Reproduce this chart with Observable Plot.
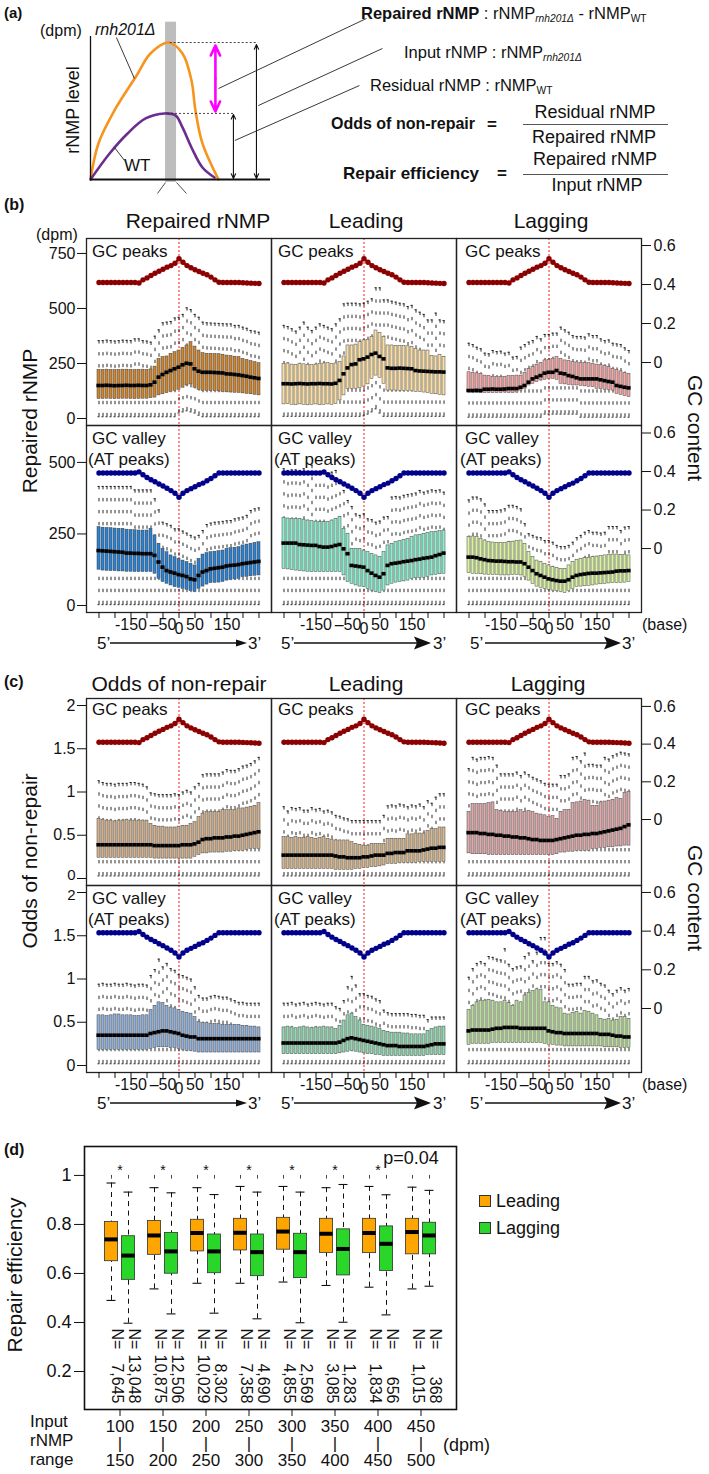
<!DOCTYPE html>
<html><head><meta charset="utf-8">
<script src="https://cdn.jsdelivr.net/npm/d3@7"></script>
<script src="https://cdn.jsdelivr.net/npm/@observablehq/plot@0.6"></script>
<style>
body{margin:0;background:#fff;}
#root{position:relative;width:709px;height:1474px;overflow:hidden;background:#fff;font-family:"Liberation Sans",Arial,Helvetica,sans-serif;color:#111;}
.t{position:absolute;white-space:nowrap;line-height:1;}
.t sub{font-size:0.62em;vertical-align:-0.3em;line-height:0;}
</style></head><body><div id="root"></div><script>
// ---------------- DATA ----------------
const positions = [-250,-237.5,-225,-212.5,-200,-187.5,-175,-162.5,-150,-137.5,-125,-112.5,-100,-87.5,-75,-62.5,-50,-37.5,-25,-12.5,0,12.5,25,37.5,50,62.5,75,87.5,100,112.5,125,137.5,150,162.5,175,187.5,200,212.5,225,237.5,250];
const xTicks = [-250,-200,-150,-100,-50,0,50,100,150,200,250];
const xLabelPos = [-150,-50,50,150];
const xLabelText = ["-150","\u201350","50","150"];
const columns = ["Repaired","Leading","Lagging"];

// GC content profiles
const gcPeaks = [0.41,0.41,0.41,0.41,0.41,0.41,0.41,0.41,0.41,0.41,0.408,0.424,0.434,0.446,0.458,0.468,0.478,0.489,0.497,0.509,0.532,0.514,0.497,0.486,0.476,0.467,0.458,0.45,0.438,0.424,0.412,0.41,0.41,0.41,0.41,0.41,0.409,0.408,0.407,0.406,0.405];
const gcValley = [0.392,0.392,0.392,0.392,0.392,0.392,0.392,0.392,0.392,0.392,0.398,0.383,0.369,0.357,0.347,0.335,0.325,0.313,0.301,0.287,0.266,0.287,0.301,0.311,0.321,0.332,0.34,0.352,0.364,0.378,0.392,0.392,0.392,0.392,0.392,0.392,0.392,0.392,0.392,0.392,0.392];

// (b) Repaired rNMP (dpm) – GC peaks
const b1Med = [150,150,151,150,149,150,150,151,150,150,151,150,150,153,165,188,200,210,218,226,233,244,251,248,226,215,210,210,210,209,208,207,203,202,200,198,195,192,188,185,182];
const b1Q3 = [221,221,222,221,220,221,222,222,221,220,221,222,221,223,236,271,279,282,294,301,309,321,332,347,327,309,297,294,294,293,292,290,286,284,281,279,271,266,261,256,251];
const b1Q1 = [89,89,90,89,88,89,90,90,89,88,89,90,90,92,95,105,110,115,120,125,130,140,150,155,140,130,125,125,124,124,123,120,119,118,117,116,114,112,110,108,105];
const b1Hi = [354,354,356,354,352,354,356,355,354,362,362,354,352,347,374,403,435,438,441,457,460,473,503,495,473,460,438,435,434,433,432,431,430,430,423,423,415,410,400,397,392];
const b1Lo = [8,8,8,8,8,8,8,8,8,8,8,8,8,8,8,8,8,8,8,8,25,30,35,30,25,15,8,8,8,8,8,8,8,8,8,8,8,8,8,8,8];
const b2Med = [158,158,157,158,159,158,157,158,158,159,158,158,157,160,173,203,230,245,248,267,271,279,291,297,282,271,230,228,228,229,228,227,226,218,216,215,214,213,212,212,211];
const b2Q3 = [248,250,245,244,248,246,244,242,245,247,250,252,248,250,256,282,332,332,336,347,355,358,370,400,388,370,332,332,330,330,329,328,326,317,309,309,309,285,282,290,279];
const b2Q1 = [64,66,62,60,64,62,60,62,64,60,62,64,62,65,82,105,135,135,135,137,145,155,180,195,185,158,127,127,127,126,126,125,124,120,120,118,116,112,110,107,105];
const b2Hi = [423,418,408,397,415,438,415,400,415,430,423,415,408,430,453,521,524,524,524,521,524,533,544,594,594,539,539,533,529,524,521,509,514,494,483,473,448,448,479,448,445];
const b2Lo = [10,10,10,10,10,10,10,10,10,10,10,10,10,10,10,10,10,10,10,10,12,20,30,44,25,10,10,10,10,10,10,10,10,10,10,10,10,10,10,10,10];
const b3Med = [127,127,128,127,133,133,134,133,133,134,136,136,136,142,150,165,180,188,195,206,210,210,218,206,203,195,191,185,180,180,180,180,180,176,172,168,165,150,146,142,139];
const b3Q3 = [210,208,205,203,195,193,190,190,188,190,192,193,195,195,206,226,233,245,251,264,267,271,279,271,264,261,256,255,253,252,251,248,245,242,238,233,226,220,214,208,203];
const b3Q1 = [120,118,117,116,117,116,115,116,117,118,117,116,118,127,135,150,158,165,173,176,180,180,176,158,155,152,150,150,148,146,144,142,135,133,131,129,127,112,107,102,97];
const b3Hi = [342,336,324,317,297,294,309,304,306,297,301,279,282,324,336,347,354,373,362,382,382,388,388,415,403,392,377,373,373,370,385,377,377,362,354,357,342,339,336,321,309];
const b3Lo = [6,6,6,6,6,6,6,6,6,6,6,6,6,6,6,6,6,6,6,20,20,20,20,20,20,20,20,20,6,6,6,6,6,6,6,6,6,6,6,6,6];
// (b) – GC valley (AT peaks)
const b4Med = [192,191,190,189,188,187,186,183,183,182,182,181,181,181,175,152,134,122,117,113,108,105,101,93,90,105,117,122,128,130,132,134,138,140,141,143,146,148,150,152,154];
const b4Q3 = [274,272,271,270,269,268,268,265,264,263,262,262,262,268,245,216,198,186,175,169,163,157,152,146,140,163,178,183,186,188,190,192,198,200,202,204,210,213,216,219,221];
const b4Q1 = [125,122,121,120,120,119,119,118,118,117,117,117,117,117,111,93,82,76,70,64,62,58,55,50,47,58,66,73,78,79,80,82,87,89,91,93,99,100,102,104,105];
const b4Hi = [416,416,416,416,416,416,416,416,416,404,404,404,404,404,373,334,291,286,280,268,268,260,253,245,239,245,262,283,288,291,292,294,296,297,303,306,309,315,332,338,341];
const b4Lo = [3,3,3,3,3,3,3,3,3,3,3,3,3,3,3,3,3,3,3,3,3,3,3,3,3,3,3,3,3,3,3,3,3,3,3,3,3,3,3,3,3];
const b5Med = [218,218,218,218,213,212,211,210,210,206,204,204,206,210,213,198,181,140,138,136,134,122,113,105,99,111,140,146,148,150,153,155,157,160,162,165,167,169,174,178,183];
const b5Q3 = [306,304,303,303,303,300,297,295,293,291,291,291,297,303,309,268,251,198,198,198,192,186,181,175,169,186,210,216,221,225,229,233,239,245,247,250,253,256,258,260,262];
const b5Q1 = [128,126,124,122,120,119,118,117,117,117,117,117,117,117,117,105,82,76,70,66,64,58,52,47,43,52,70,76,80,82,84,87,93,95,96,97,99,105,107,109,111];
const b5Hi = [478,472,474,474,472,478,466,490,466,466,466,460,466,472,437,402,367,346,320,315,320,303,300,291,295,309,311,379,381,379,385,388,390,393,402,396,400,404,402,404,396];
const b5Lo = [3,3,3,3,3,3,3,3,3,3,3,3,3,3,3,3,3,3,3,3,3,3,3,3,3,3,3,3,3,3,3,3,3,3,3,3,3,3,3,3,3];
const b6Med = [169,169,167,163,160,157,156,155,155,154,153,153,152,152,146,134,122,111,105,99,93,90,87,85,85,90,99,105,108,110,112,113,113,114,115,116,117,120,121,121,122];
const b6Q3 = [239,241,239,233,227,221,220,219,218,218,221,223,225,227,216,186,169,157,152,146,140,134,132,128,128,140,152,160,163,165,167,169,171,173,175,176,178,178,177,176,175];
const b6Q1 = [113,111,110,109,108,107,106,106,105,105,105,106,106,105,99,87,76,66,62,58,55,52,50,47,43,50,58,64,66,67,69,70,73,74,75,77,78,78,79,80,82];
const b6Hi = [369,379,379,373,355,332,332,332,334,338,350,350,346,338,286,251,245,239,237,227,227,221,210,206,206,210,221,237,245,256,262,256,256,253,256,276,276,276,262,274,276];
const b6Lo = [3,3,3,3,3,3,3,3,3,3,3,3,3,3,3,3,3,3,3,3,3,3,3,3,3,3,3,3,3,3,3,3,3,3,3,3,3,3,3,3,3];

// (c) Odds of non-repair – GC peaks
const c1Med = [0.39,0.39,0.39,0.39,0.39,0.39,0.39,0.39,0.39,0.39,0.39,0.39,0.39,0.39,0.38,0.38,0.38,0.38,0.38,0.38,0.38,0.39,0.39,0.39,0.40,0.42,0.45,0.46,0.46,0.47,0.47,0.47,0.48,0.48,0.49,0.49,0.50,0.51,0.52,0.53,0.54];
const c1Q3 = [0.69,0.68,0.67,0.67,0.66,0.67,0.67,0.68,0.67,0.67,0.67,0.67,0.67,0.63,0.61,0.60,0.60,0.59,0.59,0.59,0.60,0.61,0.61,0.63,0.65,0.71,0.75,0.77,0.77,0.77,0.77,0.79,0.79,0.79,0.79,0.81,0.81,0.82,0.83,0.84,0.87];
const c1Q1 = [0.24,0.24,0.24,0.24,0.24,0.24,0.24,0.24,0.24,0.24,0.24,0.24,0.24,0.24,0.23,0.23,0.23,0.23,0.23,0.23,0.23,0.23,0.23,0.23,0.25,0.27,0.29,0.29,0.30,0.30,0.30,0.30,0.31,0.31,0.32,0.32,0.32,0.33,0.34,0.34,0.34];
const c1Hi = [1.13,1.11,1.10,1.10,1.09,1.10,1.10,1.10,1.11,1.11,1.10,1.09,1.06,0.99,0.98,0.97,0.97,0.97,0.97,0.98,0.97,1.00,1.02,1.00,1.06,1.10,1.20,1.21,1.21,1.21,1.21,1.23,1.26,1.25,1.25,1.27,1.30,1.31,1.33,1.36,1.40];
const c1Lo = [0.03,0.03,0.03,0.03,0.03,0.03,0.03,0.03,0.03,0.03,0.03,0.03,0.03,0.03,0.03,0.03,0.03,0.03,0.03,0.03,0.03,0.03,0.03,0.03,0.03,0.03,0.03,0.03,0.03,0.03,0.03,0.03,0.03,0.03,0.03,0.03,0.03,0.03,0.03,0.03,0.03];
const c2Med = [0.27,0.27,0.27,0.27,0.27,0.27,0.27,0.27,0.27,0.27,0.27,0.27,0.27,0.26,0.25,0.25,0.24,0.24,0.24,0.24,0.25,0.25,0.26,0.27,0.27,0.27,0.29,0.29,0.30,0.30,0.30,0.32,0.32,0.32,0.32,0.33,0.34,0.35,0.35,0.36,0.36];
const c2Q3 = [0.48,0.48,0.47,0.48,0.47,0.47,0.48,0.47,0.46,0.47,0.48,0.46,0.45,0.44,0.44,0.44,0.44,0.42,0.40,0.39,0.38,0.38,0.40,0.40,0.40,0.40,0.46,0.46,0.46,0.46,0.46,0.51,0.51,0.52,0.52,0.52,0.55,0.57,0.57,0.59,0.59];
const c2Q1 = [0.11,0.11,0.11,0.11,0.11,0.11,0.11,0.11,0.11,0.11,0.11,0.11,0.11,0.10,0.10,0.10,0.10,0.10,0.11,0.11,0.12,0.12,0.13,0.13,0.14,0.15,0.17,0.17,0.17,0.18,0.18,0.18,0.18,0.18,0.19,0.19,0.19,0.19,0.19,0.19,0.19];
const c2Hi = [0.83,0.78,0.82,0.81,0.82,0.79,0.79,0.82,0.80,0.81,0.78,0.79,0.77,0.73,0.72,0.70,0.69,0.67,0.67,0.67,0.67,0.67,0.67,0.67,0.67,0.73,0.84,0.85,0.84,0.86,0.85,0.83,0.85,0.84,0.86,0.83,0.90,0.87,0.94,0.98,0.98];
const c2Lo = [0.03,0.03,0.03,0.03,0.03,0.03,0.03,0.03,0.03,0.03,0.03,0.03,0.03,0.03,0.03,0.03,0.03,0.03,0.03,0.03,0.03,0.03,0.03,0.03,0.03,0.03,0.03,0.03,0.03,0.03,0.03,0.03,0.03,0.03,0.03,0.03,0.03,0.03,0.03,0.03,0.03];
const c3Med = [0.53,0.53,0.53,0.52,0.52,0.51,0.51,0.50,0.50,0.49,0.49,0.48,0.48,0.47,0.47,0.46,0.45,0.45,0.44,0.44,0.44,0.44,0.45,0.46,0.47,0.48,0.49,0.50,0.50,0.51,0.51,0.52,0.52,0.53,0.54,0.55,0.56,0.57,0.58,0.60,0.62];
const c3Q3 = [0.77,0.86,0.86,0.86,0.86,0.87,0.88,0.79,0.78,0.77,0.77,0.77,0.77,0.79,0.77,0.78,0.77,0.75,0.74,0.73,0.71,0.72,0.69,0.77,0.79,0.79,0.87,0.88,0.89,0.91,0.90,0.84,0.84,0.88,0.89,0.90,0.91,0.93,0.92,0.99,1.00];
const c3Q1 = [0.29,0.28,0.28,0.28,0.28,0.27,0.27,0.27,0.27,0.27,0.27,0.27,0.27,0.27,0.27,0.27,0.27,0.27,0.27,0.27,0.27,0.27,0.28,0.30,0.30,0.31,0.31,0.32,0.32,0.32,0.32,0.34,0.34,0.35,0.35,0.36,0.36,0.37,0.37,0.38,0.38];
const c3Hi = [1.27,1.40,1.38,1.40,1.40,1.41,1.40,1.31,1.21,1.21,1.21,1.21,1.23,1.19,1.23,1.20,1.17,1.15,1.13,1.10,1.09,1.09,1.09,1.19,1.19,1.21,1.40,1.41,1.36,1.45,1.32,1.32,1.31,1.31,1.40,1.38,1.42,1.44,1.46,1.45,1.44];
const c3Lo = [0.03,0.03,0.03,0.03,0.03,0.03,0.03,0.03,0.03,0.03,0.03,0.03,0.03,0.03,0.03,0.03,0.03,0.03,0.03,0.03,0.03,0.03,0.03,0.03,0.03,0.03,0.03,0.03,0.03,0.03,0.03,0.03,0.03,0.03,0.03,0.03,0.03,0.03,0.03,0.03,0.03];
// (c) – GC valley (AT peaks)
const c4Med = [0.35,0.35,0.35,0.35,0.35,0.35,0.35,0.35,0.35,0.35,0.35,0.35,0.35,0.37,0.38,0.39,0.40,0.40,0.39,0.38,0.37,0.35,0.34,0.33,0.33,0.31,0.31,0.31,0.31,0.31,0.31,0.31,0.31,0.31,0.31,0.31,0.31,0.31,0.31,0.31,0.31];
const c4Q3 = [0.58,0.58,0.57,0.58,0.59,0.59,0.58,0.58,0.58,0.57,0.57,0.58,0.58,0.64,0.69,0.73,0.72,0.69,0.67,0.66,0.64,0.62,0.61,0.60,0.56,0.50,0.49,0.49,0.48,0.48,0.48,0.47,0.47,0.47,0.47,0.47,0.46,0.46,0.45,0.45,0.44];
const c4Q1 = [0.18,0.18,0.18,0.18,0.18,0.18,0.18,0.18,0.18,0.18,0.18,0.18,0.18,0.19,0.20,0.21,0.21,0.21,0.20,0.20,0.19,0.18,0.17,0.17,0.16,0.15,0.15,0.15,0.15,0.15,0.15,0.15,0.15,0.15,0.15,0.15,0.15,0.15,0.15,0.15,0.15];
const c4Hi = [0.94,0.95,0.94,0.94,0.95,0.94,0.94,0.95,0.94,0.93,0.94,0.94,0.93,1.04,1.11,1.23,1.14,1.18,1.12,1.10,1.05,1.04,1.02,1.00,0.91,0.81,0.78,0.78,0.80,0.81,0.80,0.79,0.79,0.77,0.75,0.73,0.73,0.72,0.72,0.72,0.72];
const c4Lo = [0.02,0.02,0.02,0.02,0.02,0.02,0.02,0.02,0.02,0.02,0.02,0.02,0.02,0.02,0.02,0.02,0.02,0.02,0.02,0.02,0.02,0.02,0.02,0.02,0.02,0.02,0.02,0.02,0.02,0.02,0.02,0.02,0.02,0.02,0.02,0.02,0.02,0.02,0.02,0.02,0.02];
const c5Med = [0.26,0.26,0.26,0.26,0.26,0.26,0.26,0.26,0.26,0.26,0.26,0.26,0.26,0.26,0.27,0.29,0.31,0.32,0.31,0.30,0.29,0.28,0.27,0.26,0.25,0.24,0.23,0.23,0.23,0.22,0.22,0.22,0.22,0.22,0.22,0.22,0.23,0.24,0.25,0.25,0.25];
const c5Q3 = [0.44,0.45,0.44,0.43,0.44,0.45,0.44,0.43,0.44,0.44,0.45,0.44,0.44,0.42,0.46,0.52,0.58,0.60,0.56,0.52,0.47,0.46,0.45,0.44,0.42,0.40,0.39,0.38,0.38,0.38,0.37,0.37,0.36,0.36,0.36,0.36,0.40,0.42,0.44,0.45,0.45];
const c5Q1 = [0.13,0.13,0.13,0.13,0.13,0.13,0.13,0.13,0.13,0.13,0.13,0.13,0.13,0.13,0.14,0.15,0.16,0.17,0.16,0.15,0.14,0.13,0.13,0.12,0.12,0.11,0.11,0.11,0.11,0.11,0.11,0.11,0.11,0.11,0.11,0.11,0.12,0.12,0.12,0.12,0.12];
const c5Hi = [0.72,0.72,0.73,0.71,0.72,0.73,0.71,0.72,0.73,0.72,0.71,0.72,0.72,0.68,0.66,0.75,0.91,1.03,0.93,0.83,0.83,0.81,0.80,0.77,0.75,0.64,0.61,0.60,0.60,0.60,0.60,0.60,0.59,0.59,0.58,0.58,0.53,0.56,0.56,0.56,0.56];
const c5Lo = [0.02,0.02,0.02,0.02,0.02,0.02,0.02,0.02,0.02,0.02,0.02,0.02,0.02,0.02,0.02,0.02,0.02,0.02,0.02,0.02,0.02,0.02,0.02,0.02,0.02,0.02,0.02,0.02,0.02,0.02,0.02,0.02,0.02,0.02,0.02,0.02,0.02,0.02,0.02,0.02,0.02];
const c6Med = [0.40,0.41,0.41,0.41,0.41,0.41,0.42,0.43,0.43,0.44,0.44,0.44,0.44,0.43,0.43,0.43,0.43,0.43,0.43,0.43,0.40,0.39,0.38,0.38,0.37,0.37,0.37,0.37,0.37,0.37,0.37,0.37,0.37,0.36,0.36,0.36,0.35,0.34,0.34,0.33,0.33];
const c6Q3 = [0.64,0.69,0.73,0.75,0.75,0.76,0.75,0.73,0.73,0.75,0.72,0.69,0.75,0.73,0.81,0.84,0.86,0.88,0.87,0.73,0.73,0.69,0.67,0.66,0.60,0.59,0.61,0.62,0.60,0.63,0.62,0.60,0.58,0.54,0.53,0.54,0.52,0.53,0.56,0.56,0.54];
const c6Q1 = [0.24,0.25,0.25,0.25,0.25,0.25,0.26,0.26,0.26,0.26,0.26,0.26,0.26,0.26,0.26,0.26,0.26,0.26,0.26,0.25,0.24,0.24,0.23,0.23,0.22,0.22,0.22,0.22,0.22,0.22,0.22,0.22,0.22,0.22,0.21,0.21,0.21,0.21,0.20,0.20,0.20];
const c6Hi = [1.02,1.12,1.18,1.20,1.18,1.26,1.25,1.23,1.22,1.35,1.17,1.12,1.14,1.15,1.26,1.30,1.21,1.31,1.48,1.48,1.18,1.18,1.20,1.17,1.11,0.94,0.94,0.95,0.95,1.03,1.03,0.98,0.99,0.95,0.93,0.87,0.83,0.87,0.90,0.87,0.89];
const c6Lo = [0.02,0.02,0.02,0.02,0.02,0.02,0.02,0.02,0.02,0.02,0.02,0.02,0.02,0.02,0.02,0.02,0.02,0.02,0.02,0.02,0.02,0.02,0.02,0.02,0.02,0.02,0.02,0.02,0.02,0.02,0.02,0.02,0.02,0.02,0.02,0.02,0.02,0.02,0.02,0.02,0.02];

// (d) Repair efficiency by input rNMP range
const rangeLow = [100,150,200,250,300,350,400,450];
const rangeHigh = [150,200,250,300,350,400,450,500];
const leadHi = [0.969,0.95,0.95,0.955,0.955,0.95,0.955,0.952];
const leadQ3 = [0.81,0.814,0.819,0.823,0.827,0.823,0.823,0.823];
const leadMed = [0.739,0.755,0.765,0.766,0.771,0.762,0.765,0.769];
const leadQ1 = [0.65,0.676,0.69,0.694,0.697,0.684,0.683,0.678];
const leadLo = [0.49,0.537,0.56,0.56,0.565,0.551,0.544,0.537];
const lagHi = [0.932,0.929,0.922,0.932,0.932,0.963,0.921,0.939];
const lagQ3 = [0.752,0.765,0.759,0.759,0.762,0.78,0.792,0.807];
const lagMed = [0.673,0.69,0.69,0.687,0.687,0.70,0.721,0.755];
const lagQ1 = [0.574,0.599,0.601,0.589,0.581,0.592,0.61,0.678];
const lagLo = [0.397,0.435,0.438,0.415,0.399,0.401,0.431,0.548];
const leadN = [7645,10875,10029,7358,4855,3085,1834,1015];
const lagN = [13048,12506,8302,4690,2569,1283,656,368];
const sigMarks = ["*","*","*","*","*","*","*",""];
const yTicksD = [0.2,0.4,0.6,0.8,1];

// (a) schematic curves (arbitrary units)
const orangeCurve = [[0,0],[4.4,25.2],[13.3,48.3],[25.6,72.7],[33.3,88.1],[43.3,95.8],[51.1,88.1],[56.1,69.2],[58.3,48.3],[62.2,25.2],[71.1,0]];
const purpleCurve = [[0,0],[10.6,18.2],[20.6,32.2],[30.6,42.7],[41.1,46.2],[47.2,44.8],[51.1,36.4],[56.1,22.4],[62.2,8.4],[68.9,1.4]];

// ---------------- STYLE ----------------
const FONT = '"Liberation Sans", Arial, Helvetica, sans-serif';
const root = document.getElementById("root");
const W = 709, FL = 86, FR = 641;
const boxColB = [["#cc8634","#f9dea5","#f6a8a8"],["#2e82d2","#8eeccf","#daf0a2"]];
const boxColC = [["#d2b28e","#d6b892","#dea9a9"],["#92afd8","#96d8b3","#bddca0"]];
const gcColP = "#8b0000", gcColV = "#00008b";
const leadColor = "#ffa500", lagColor = "#2ad62a";

function T(html, x, y, o = {}) {
  const d = document.createElement("div");
  d.className = "t"; d.innerHTML = html;
  d.style.fontSize = (o.size || 16) + "px";
  if (o.bold) d.style.fontWeight = "bold";
  if (o.italic) d.style.fontStyle = "italic";
  d.style.left = x + "px"; d.style.top = y + "px";
  const ax = o.anchor === "middle" ? "-50%" : o.anchor === "end" ? "-100%" : "0";
  d.style.transform = `translate(${ax},-50%)` + (o.rotate ? ` rotate(${o.rotate}deg)` : "");
  root.appendChild(d);
}
function place(svg, top) {
  svg.style.position = "absolute"; svg.style.left = "0px"; svg.style.top = top + "px";
  root.appendChild(svg);
}
const baseStyle = {background: "transparent", overflow: "visible", fontSize: "16px", fontFamily: FONT, color: "#111"};

// ---------------- PANEL (a) ----------------
{
  const pts = (c) => c.map(([u, v]) => ({u, v}));
  const band = [{x1: 41.7, x2: 47.8, y1: -2, y2: 110}];
  const svg = Plot.plot({
    width: W, height: 195, marginLeft: 90, marginRight: W - 270, marginTop: 36, marginBottom: 16,
    style: baseStyle,
    x: {domain: [0, 100], axis: null}, y: {domain: [0, 100], axis: null},
    marks: [
      Plot.rect(band, {x1: "x1", x2: "x2", y1: "y1", y2: "y2", fill: "#bdbdbd"}),
      Plot.link([{a: 41.7, b: -2.1, c: 37.2, d: -9.8}, {a: 47.8, b: -2.1, c: 53.3, d: -9.8}], {x1: "a", y1: "b", x2: "c", y2: "d", stroke: "#222", strokeWidth: 0.8}),
      Plot.line(pts(orangeCurve), {x: "u", y: "v", curve: "catmull-rom", stroke: "#f7941d", strokeWidth: 2.6}),
      Plot.line(pts(purpleCurve), {x: "u", y: "v", curve: "catmull-rom", stroke: "#6b2d90", strokeWidth: 2.6}),
      Plot.ruleX([0], {y1: 0, y2: 100, stroke: "#111", strokeWidth: 1.3}),
      Plot.ruleY([0], {x1: 0, x2: 100, stroke: "#111", strokeWidth: 2}),
      Plot.link([{a: 44, b: 95.8, c: 92.8, d: 95.8}, {a: 42.5, b: 46.2, c: 80, d: 46.2}], {x1: "a", y1: "b", x2: "c", y2: "d", stroke: "#333", strokeWidth: 0.9, strokeDasharray: "2,2"}),
      Plot.arrow([{a: 69.4, b: 70.6, c: 69.4, d: 93.7}, {a: 69.4, b: 70.6, c: 69.4, d: 47.6}], {x1: "a", y1: "b", x2: "c", y2: "d", stroke: "#ff00ff", strokeWidth: 2.6, headLength: 9, headAngle: 50}),
      Plot.arrow([{a: 92.2, b: 47.5, c: 92.2, d: 94.4}, {a: 92.2, b: 47.5, c: 92.2, d: 0.7}, {a: 79.4, b: 23, c: 79.4, d: 45.5}, {a: 79.4, b: 23, c: 79.4, d: 0.7}], {x1: "a", y1: "b", x2: "c", y2: "d", stroke: "#111", strokeWidth: 1.1, headLength: 7, headAngle: 50}),
      Plot.link([{a: 71.1, b: 63.6, c: 153.3, d: 112.6}, {a: 93.2, b: 51.7, c: 162.2, d: 91.6}, {a: 80.2, b: 27.3, c: 149.4, d: 65.7}, {a: 14.4, b: 99.3, c: 24.4, d: 70.6}, {a: 13.3, b: 22.4, c: 18.9, d: 13.3}], {x1: "a", y1: "b", x2: "c", y2: "d", stroke: "#222", strokeWidth: 0.9})
    ]
  });
  place(svg, 0);
  T("(a)", 4, 12, {bold: true, size: 15});
  T("(dpm)", 40, 31, {size: 16});
  T("rnh201\u0394", 95, 30, {size: 16, italic: true});
  T("WT", 124, 165, {size: 17});
  T("rNMP level", 73, 110, {size: 18, anchor: "middle", rotate: -90});
  T("<b>Repaired rNMP</b> : rNMP<sub><i>rnh201\u0394</i></sub> - rNMP<sub>WT</sub>", 361, 13, {size: 16.5});
  T("Input rNMP : rNMP<sub><i>rnh201\u0394</i></sub>", 404, 52, {size: 16.5});
  T("Residual rNMP : rNMP<sub>WT</sub>", 370, 85, {size: 16.5});
  T("<b>Odds of non-repair</b>", 331, 124, {size: 16});
  T("<b>=</b>", 487, 124, {size: 17});
  T("Residual rNMP", 595, 112, {size: 18, anchor: "middle"});
  T("Repaired rNMP", 594, 137, {size: 18, anchor: "middle"});
  T("<b>Repair efficiency</b>", 343, 173, {size: 17});
  T("<b>=</b>", 497, 173, {size: 17});
  T("Repaired rNMP", 595, 159, {size: 18, anchor: "middle"});
  T("Input rNMP", 597, 185, {size: 18, anchor: "middle"});
  for (const y of [124, 174]) {
    const l = document.createElement("div");
    Object.assign(l.style, {position: "absolute", left: "523px", top: y + "px", width: "145px", height: "0", borderTop: "1.5px solid #555"});
    root.appendChild(l);
  }
}

// ---------------- PANELS (b) and (c) ----------------
function table(panels) {
  const out = [];
  for (const p of panels) positions.forEach((pos, i) => out.push({col: p.col, pos, med: p.med[i], q1: p.q1[i], q3: p.q3[i], hi: p.hi[i], lo: p.lo[i], fill: p.fill}));
  return out;
}
function gcTable(profile) {
  const out = [];
  for (const col of columns) positions.forEach((pos, i) => out.push({col, pos, gc: profile[i]}));
  return out;
}
const xScale = {type: "band", domain: positions, padding: 0.2, insetLeft: 5, insetRight: 5};
function boxRow({panels, yDomain, yTicks, frameTop, frameBottom, xAxis, gc, gcColor, gcDomain, edge}) {
  const mt = 12, mb = xAxis ? 40 : 12;
  const h = mt + (frameBottom - frameTop) + mb;
  const rows = table(panels);
  const dash = "3.4,8.6";
  const marks = [
    Plot.ruleX([0], {stroke: "#ff1a1a", strokeDasharray: "2,2", strokeWidth: 1}),
    Plot.ruleX(rows, {fx: "col", x: "pos", y1: "hi", y2: "q3", stroke: "#111", strokeWidth: 0.9, strokeDasharray: dash}),
    Plot.ruleX(rows, {fx: "col", x: "pos", y1: "lo", y2: "q1", stroke: "#111", strokeWidth: 0.9, strokeDasharray: dash}),
    Plot.tickY(rows, {fx: "col", x: "pos", y: "hi", inset: 0.5, stroke: "#111", strokeWidth: 0.9}),
    Plot.tickY(rows, {fx: "col", x: "pos", y: "lo", inset: 0.5, stroke: "#111", strokeWidth: 0.9}),
    Plot.barY(rows, {fx: "col", x: "pos", y1: "q1", y2: "q3", fill: "fill", stroke: "#333", strokeWidth: 0.45}),
    Plot.tickY(rows, {fx: "col", x: "pos", y: "med", stroke: "#000", strokeWidth: 3.6, insetLeft: -0.6, insetRight: -0.6}),
    Plot.frame({stroke: "#222", strokeWidth: 1.3}),
    Plot.axisY({anchor: "left", ticks: yTicks, tickSize: 9, tickPadding: 2, label: null,
      tickFormat: d => (edge && d === edge.value) ? "" : String(d)})
  ];
  if (edge) {
    // the label at the shared row border is nudged slightly away from its neighbour
    marks.push(Plot.axisY({anchor: "left", ticks: [edge.value], tickSize: 0, tickPadding: 11, dy: edge.dy, label: null, fontSize: 15,
      tickFormat: d => String(d)}));
  }
  if (xAxis) {
    marks.push(Plot.axisX({ticks: xTicks, tickSize: 6, tickPadding: 0, label: null,
      tickFormat: d => { const k = xLabelPos.indexOf(d); return k < 0 ? "" : xLabelText[k]; }}));
    marks.push(Plot.axisX({ticks: [0], tickSize: 0, tickPadding: 10, label: null, tickFormat: d => String(d)}));
  }
  const svg = Plot.plot({
    width: W, height: h, marginLeft: FL, marginRight: W - FR, marginTop: mt, marginBottom: mb,
    style: baseStyle,
    fx: {domain: columns, padding: 0, axis: null, label: null},
    x: {...xScale, axis: null}, y: {domain: yDomain},
    color: {type: "identity"},
    marks
  });
  place(svg, frameTop - mt);
  const g = gcTable(gc);
  const svg2 = Plot.plot({
    width: W, height: h, marginLeft: FL, marginRight: W - FR, marginTop: mt, marginBottom: mb,
    style: baseStyle,
    fx: {domain: columns, padding: 0, axis: null, label: null},
    x: {...xScale, axis: null}, y: {domain: gcDomain},
    marks: [
      Plot.line(g, {fx: "col", x: "pos", y: "gc", stroke: gcColor, strokeWidth: 2}),
      Plot.dot(g, {fx: "col", x: "pos", y: "gc", r: 2.7, fill: gcColor, stroke: "none"}),
      Plot.axisY({anchor: "right", ticks: [0, 0.2, 0.4, 0.6], tickFormat: d => String(d), tickSize: 9, tickPadding: 3, label: null})
    ]
  });
  place(svg2, frameTop - mt);
}
const P = (col, med, q1, q3, hi, lo, fill) => ({col, med, q1, q3, hi, lo, fill});

// (b)
boxRow({panels: [P("Repaired", b1Med, b1Q1, b1Q3, b1Hi, b1Lo, boxColB[0][0]), P("Leading", b2Med, b2Q1, b2Q3, b2Hi, b2Lo, boxColB[0][1]), P("Lagging", b3Med, b3Q1, b3Q3, b3Hi, b3Lo, boxColB[0][2])],
  yDomain: [-31.8, 818], yTicks: [0, 250, 500, 750], frameTop: 238, frameBottom: 425, xAxis: false, gc: gcPeaks, gcColor: gcColP, gcDomain: [-0.323, 0.636]});
boxRow({panels: [P("Repaired", b4Med, b4Q1, b4Q3, b4Hi, b4Lo, boxColB[1][0]), P("Leading", b5Med, b5Q1, b5Q3, b5Hi, b5Lo, boxColB[1][1]), P("Lagging", b6Med, b6Q1, b6Q3, b6Hi, b6Lo, boxColB[1][2])],
  yDomain: [-24.5, 629], yTicks: [0, 250, 500], frameTop: 425, frameBottom: 612, xAxis: true, gc: gcValley, gcColor: gcColV, gcDomain: [-0.332, 0.639]});
// (c)
boxRow({panels: [P("Repaired", c1Med, c1Q1, c1Q3, c1Hi, c1Lo, boxColC[0][0]), P("Leading", c2Med, c2Q1, c2Q3, c2Hi, c2Lo, boxColC[0][1]), P("Lagging", c3Med, c3Q1, c3Q3, c3Hi, c3Lo, boxColC[0][2])],
  yDomain: [-0.081, 2.081], yTicks: [0, 0.5, 1, 1.5, 2], frameTop: 698, frameBottom: 885, xAxis: false, gc: gcPeaks, gcColor: gcColP, gcDomain: [-0.35, 0.642],
  edge: {value: 0, dy: -3}});
boxRow({panels: [P("Repaired", c4Med, c4Q1, c4Q3, c4Hi, c4Lo, boxColC[1][0]), P("Leading", c5Med, c5Q1, c5Q3, c5Hi, c5Lo, boxColC[1][1]), P("Lagging", c6Med, c6Q1, c6Q3, c6Hi, c6Lo, boxColC[1][2])],
  yDomain: [-0.081, 2.081], yTicks: [0, 0.5, 1, 1.5, 2], frameTop: 885, frameBottom: 1072, xAxis: true, gc: gcValley, gcColor: gcColV, gcDomain: [-0.331, 0.636],
  edge: {value: 2, dy: 3}});

// labels for (b) and (c)
function rowLabels({tag, tagY, titles, titleY, peakY, valleyY, yLabel, yLabelY, gcLabelY, axisY}) {
  T(tag, 4, tagY, {bold: true, size: 16});
  T(titles[0][0], titles[0][1], titleY, {size: 21, anchor: "middle"});
  T("Leading", 366, titleY, {size: 21, anchor: "middle"});
  T("Lagging", titles[1], titleY, {size: 21, anchor: "middle"});
  const cx = [[92, 88], [278, 274], [465, 460]];
  for (const [a, b] of cx) {
    T("GC peaks", a, peakY, {size: 17});
    T("GC valley", a, valleyY, {size: 17});
    T("(AT peaks)", b, valleyY + 21, {size: 17});
  }
  T(yLabel, 29, yLabelY, {size: 21, anchor: "middle", rotate: -90});
  T("GC content", 695, gcLabelY, {size: 21, anchor: "middle", rotate: 90});
  T("(base)", 642, axisY + 13, {size: 16});
  const ay = axisY + 31;
  for (const [a, b] of [[97, 248], [281, 433], [470, 622]]) {
    T("5\u2019", a, ay, {size: 17});
    T("3\u2019", b, ay, {size: 17});
  }
  const ns = "http://www.w3.org/2000/svg";
  const s = document.createElementNS(ns, "svg");
  s.setAttribute("width", W); s.setAttribute("height", 30);
  s.style.position = "absolute"; s.style.left = "0"; s.style.top = (ay - 15) + "px";
  s.innerHTML = `<line x1="110" y1="15" x2="240" y2="15" stroke="#111" stroke-width="1.3"/>
    <path d="M236,11.5 L247,15 L236,18.5 Z" fill="#111"/>
    <line x1="294" y1="15" x2="418" y2="15" stroke="#111" stroke-width="1.6"/>
    <path d="M414,8.5 L431,15 L414,21.5 L417,15 Z" fill="#111"/>
    <line x1="485" y1="15" x2="608" y2="15" stroke="#111" stroke-width="1.6"/>
    <path d="M604,8.5 L621,15 L604,21.5 L607,15 Z" fill="#111"/>`;
  root.appendChild(s);
}
rowLabels({tag: "(b)", tagY: 205, titles: [["Repaired rNMP", 198], 551], titleY: 220, peakY: 251, valleyY: 438,
  yLabel: "Repaired rNMP", yLabelY: 421, gcLabelY: 428, axisY: 612});
T("(dpm)", 36, 235, {size: 16});
rowLabels({tag: "(c)", tagY: 682, titles: [["Odds of non-repair", 179], 548], titleY: 683, peakY: 709, valleyY: 898,
  yLabel: "Odds of non-repair", yLabelY: 861, gcLabelY: 898, axisY: 1072});

// ---------------- PANEL (d) ----------------
{
  const mk = (hi, q3, med, q1, lo, n) => rangeLow.map((g, i) => ({group: g, hi: hi[i], q3: q3[i], med: med[i], q1: q1[i], lo: lo[i], n: n[i]}));
  const lead = mk(leadHi, leadQ3, leadMed, leadQ1, leadLo, leadN);
  const lag = mk(lagHi, lagQ3, lagMed, lagQ1, lagLo, lagN);
  const brackets = rangeLow.map((g, i) => ({group: g, sig: sigMarks[i]}));
  const bracketY = 1.0, legY = 0.985, starY = 1.02;
  const boxMarks = (rows, dx, fill) => [
    Plot.ruleX(rows, {x: "group", dx, y1: "hi", y2: "q3", stroke: "#111", strokeWidth: 1, strokeDasharray: "5,4.5"}),
    Plot.ruleX(rows, {x: "group", dx, y1: "lo", y2: "q1", stroke: "#111", strokeWidth: 1, strokeDasharray: "5,4.5"}),
    Plot.tickY(rows, {x: "group", dx, y: "hi", insetLeft: 17, insetRight: 17, stroke: "#111", strokeWidth: 1.1}),
    Plot.tickY(rows, {x: "group", dx, y: "lo", insetLeft: 17, insetRight: 17, stroke: "#111", strokeWidth: 1.1}),
    Plot.barY(rows, {x: "group", dx, y1: "q1", y2: "q3", insetLeft: 14.9, insetRight: 14.9, fill, stroke: "#333", strokeWidth: 0.8}),
    Plot.tickY(rows, {x: "group", dx, y: "med", insetLeft: 14.9, insetRight: 14.9, stroke: "#000", strokeWidth: 4}),
    Plot.text(rows, {x: "group", dx, text: () => "N=", rotate: 90, textAnchor: "start", frameAnchor: "bottom", dy: -81, fontSize: 16}),
    Plot.text(rows, {x: "group", dx, text: d => d.n.toLocaleString("en-US"), rotate: 90, textAnchor: "end", frameAnchor: "bottom", dy: -6, fontSize: 16})
  ];
  const svg = Plot.plot({
    width: W, height: 338, marginLeft: 84, marginRight: W - 456, marginTop: 10, marginBottom: 65,
    style: baseStyle,
    x: {type: "band", domain: rangeLow, paddingInner: 0, paddingOuter: 0.3},
    y: {domain: [0.045, 1.118]},
    marks: [
      ...boxMarks(lead, -8.5, leadColor),
      ...boxMarks(lag, 8.5, lagColor),
      Plot.ruleY(brackets, {x: "group", y: bracketY, insetLeft: 13, insetRight: 13, stroke: "#333", strokeWidth: 0.9}),
      Plot.ruleX(brackets, {x: "group", dx: -8.5, y1: bracketY, y2: legY, stroke: "#333", strokeWidth: 0.9}),
      Plot.ruleX(brackets, {x: "group", dx: 8.5, y1: bracketY, y2: legY, stroke: "#333", strokeWidth: 0.9}),
      Plot.text(brackets, {x: "group", y: starY, text: "sig", fontSize: 14, fill: "#111"}),
      Plot.frame({stroke: "#111", strokeWidth: 1.6}),
      Plot.axisY({ticks: yTicksD, tickSize: 10, tickPadding: 3, tickFormat: d => String(d), label: null, fontSize: 18}),
      Plot.axisX({tickSize: 7, tickPadding: 3, label: null, fontSize: 17, lineHeight: 1,
        tickFormat: d => `${d}\n|\n${rangeHigh[rangeLow.indexOf(d)]}`})
    ]
  });
  place(svg, 1136);
  T("(d)", 4, 1150, {bold: true, size: 16});
  T("Repair efficiency", 14, 1275, {size: 21, anchor: "middle", rotate: -90});
  T("p=0.04", 411, 1158, {size: 18, anchor: "middle"});
  T("Input", 30, 1421, {size: 17});
  T("rNMP", 30, 1440, {size: 17});
  T("range", 30, 1459, {size: 17});
  T("(dpm)", 443, 1445, {size: 18});
  for (const [c, y, lab] of [[leadColor, 1201, "Leading"], [lagColor, 1228, "Lagging"]]) {
    const sq = document.createElement("div");
    Object.assign(sq.style, {position: "absolute", left: "479px", top: (y - 6) + "px", width: "10px", height: "10px", background: c, border: "1px solid #333"});
    root.appendChild(sq);
    T(lab, 496, y, {size: 18});
  }
}
</script></body></html>
